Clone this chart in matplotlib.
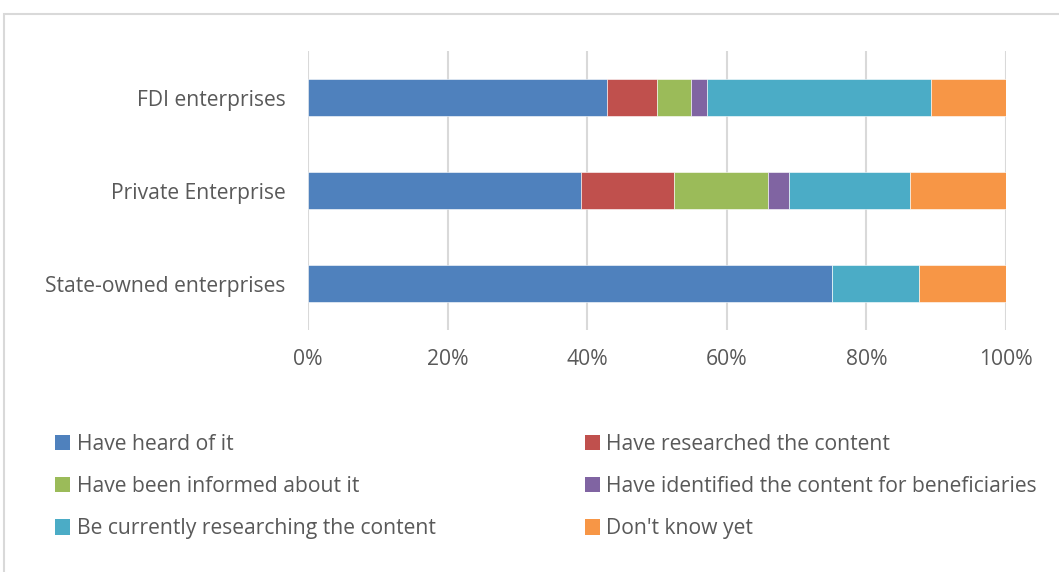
import numpy as np
import matplotlib.pyplot as plt
from matplotlib.patches import Patch, Rectangle

# enterprise groups, bottom to top
groups = ["State-owned enterprises", "Private Enterprise", "FDI enterprises"]

series = [
    "Have heard of it",
    "Have researched the content",
    "Have been informed about it",
    "Have identified the content for beneficiaries",
    "Be currently researching the content",
    "Don't know yet",
]

# share of answers (%) per group, same order as groups
heard       = [75.0, 39.1, 42.9]
researched  = [0.0, 13.4, 7.1]
informed    = [0.0, 13.4, 4.8]
identified  = [0.0, 3.0, 2.4]
researching = [12.5, 17.4, 32.1]
dont_know   = [12.5, 13.7, 10.7]

colors = ["#4F81BD", "#C0504D", "#9BBB59", "#8064A2", "#4BACC6", "#F79646"]
text_col = "#595959"

plt.rcParams["font.family"] = ["Open Sans", "DejaVu Sans"]

fig = plt.figure(figsize=(10.59, 5.72), dpi=100)
ax = fig.add_axes([0.2908, 0.423, 0.6592, 0.487])

values = [heard, researched, informed, identified, researching, dont_know]
y = np.arange(len(groups))
left = np.zeros(len(groups))
for name, vals, c in zip(series, values, colors):
    vals = np.array(vals)
    ax.barh(y, vals, left=left, height=0.4, color=c, edgecolor="white",
            linewidth=0.4, label=name, zorder=3)
    left += vals

ax.set_xlim(0, 100)
ax.set_ylim(-0.5, len(groups) - 0.5)
ax.set_xticks(np.arange(0, 101, 20))
ax.set_xticklabels([f"{t}%" for t in range(0, 101, 20)])
ax.set_yticks(y)
ax.set_yticklabels(groups)
ax.tick_params(length=0, labelsize=15.2, colors=text_col)
ax.tick_params(axis="y", pad=16)
ax.tick_params(axis="x", pad=13.5)
ax.grid(axis="x", color="#d9d9d9", linewidth=1.5, zorder=0)
for s in ax.spines.values():
    s.set_visible(False)

# chart border
fig.patches.append(Rectangle((4 / 1059, -0.1), 1.2, 1 - 14 / 572 + 0.1,
                             transform=fig.transFigure, fill=False,
                             edgecolor="#d9d9d9", linewidth=1.5))

handles = [Patch(facecolor=c) for c in colors]
for col, x0 in enumerate([0.052, 0.552]):
    idx = [col, col + 2, col + 4]
    leg = fig.legend([handles[i] for i in idx], [series[i] for i in idx],
                     loc="center left", bbox_to_anchor=(x0, 0.149),
                     frameon=False, fontsize=15.2, handlelength=0.72,
                     handleheight=0.72, handletextpad=0.3,
                     labelspacing=1.0, borderpad=0, borderaxespad=0)
    for t in leg.get_texts():
        t.set_color(text_col)

fig.savefig("out.png", dpi=100)
